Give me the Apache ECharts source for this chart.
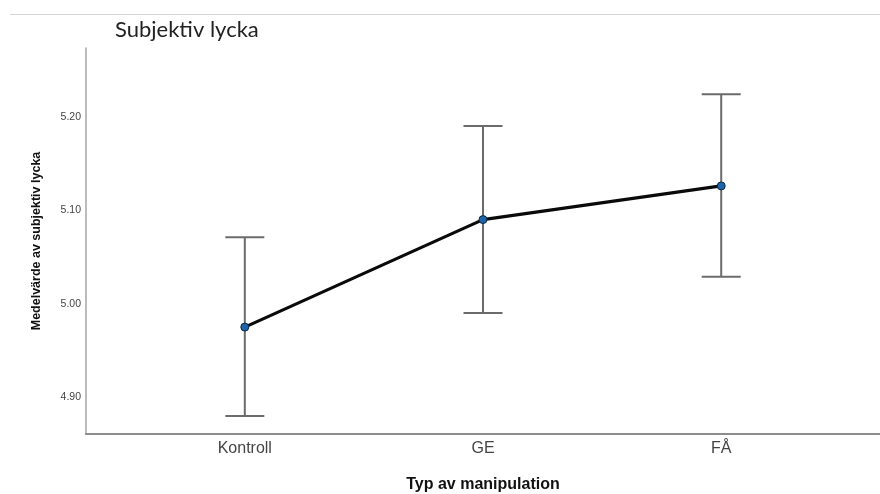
<!DOCTYPE html>
<html>
<head>
<meta charset="utf-8">
<script src="https://cdn.jsdelivr.net/npm/echarts@6/dist/echarts.min.js"></script>
<style>
  html, body { margin: 0; padding: 0; background: #fff; }
  #chart { width: 880px; height: 494px; }
</style>
</head>
<body>
<div id="chart"></div>
<script>
// Group means with their 95% confidence limits
const categories = ['Kontroll', 'GE', 'FÅ'];
const means = [4.975, 5.090, 5.126];
const lower = [4.880, 4.990, 5.029];
const upper = [5.071, 5.190, 5.224];
const yTicks = [4.90, 5.00, 5.10, 5.20];

const chart = echarts.init(document.getElementById('chart'));

const meanPoints = means.map((v, i) => [i, v]);
const ciData = categories.map((c, i) => [i, lower[i], upper[i]]);

chart.setOption({
  animation: false,
  backgroundColor: '#ffffff',
  title: {
    text: 'Subjektiv lycka',
    left: 110,
    top: 14,
    textStyle: { fontFamily: 'Lato', fontSize: 22, fontWeight: 'normal', color: '#222' }
  },
  graphic: [{
    type: 'line',
    shape: { x1: 10, y1: 14.5, x2: 880, y2: 14.5 },
    style: { stroke: '#d4d4d4', lineWidth: 1 }
  }],
  grid: { left: 86, right: 0, top: 48, bottom: 60, outerBoundsMode: 'none', containLabel: false },
  xAxis: {
    type: 'value',
    min: -2 / 3,
    max: 8 / 3,
    name: 'Typ av manipulation',
    nameLocation: 'middle',
    nameGap: 43,
    nameTextStyle: { fontFamily: 'Liberation Sans', fontSize: 16, fontWeight: 'bold', color: '#111' },
    axisLine: { show: true, onZero: false, lineStyle: { color: '#8c8c8c', width: 2 } },
    axisTick: { show: false },
    splitLine: { show: false },
    axisLabel: {
      customValues: categories.map((c, i) => i),
      formatter: v => categories[Math.round(v)] || '',
      margin: 7,
      fontFamily: 'Liberation Sans',
      fontSize: 16,
      color: '#444'
    }
  },
  yAxis: {
    type: 'value',
    min: 4.8607,
    max: 5.2735,
    name: 'Medelvärde av subjektiv lycka',
    nameLocation: 'middle',
    nameGap: 43,
    nameTextStyle: { fontFamily: 'Liberation Sans', fontSize: 12.5, fontWeight: 'bold', color: '#111' },
    axisLine: { show: true, onZero: false, lineStyle: { color: '#a6a6a6', width: 1.5 } },
    axisTick: { show: false },
    splitLine: { show: false },
    axisLabel: {
      customValues: yTicks,
      formatter: v => v.toFixed(2),
      margin: 5,
      fontFamily: 'Liberation Sans',
      fontSize: 10.5,
      color: '#444'
    }
  },
  series: [
    {
      type: 'custom',
      name: 'CI',
      data: ciData,
      z: 2,
      renderItem: (params, api) => {
        const x = api.value(0);
        const lo = api.coord([x, api.value(1)]);
        const hi = api.coord([x, api.value(2)]);
        const half = 19.5;
        const style = { stroke: '#6b6b6b', lineWidth: 2 };
        return {
          type: 'group',
          children: [
            { type: 'line', shape: { x1: lo[0], y1: lo[1], x2: hi[0], y2: hi[1] }, style },
            { type: 'line', shape: { x1: hi[0] - half, y1: hi[1], x2: hi[0] + half, y2: hi[1] }, style },
            { type: 'line', shape: { x1: lo[0] - half, y1: lo[1], x2: lo[0] + half, y2: lo[1] }, style }
          ]
        };
      }
    },
    {
      type: 'line',
      name: 'Medelvärde',
      data: meanPoints,
      z: 3,
      symbol: 'circle',
      symbolSize: 8,
      lineStyle: { color: '#0a0a0a', width: 3.2 },
      itemStyle: { color: '#1f63a8', borderColor: '#0b2740', borderWidth: 1 }
    }
  ]
});
</script>
</body>
</html>
